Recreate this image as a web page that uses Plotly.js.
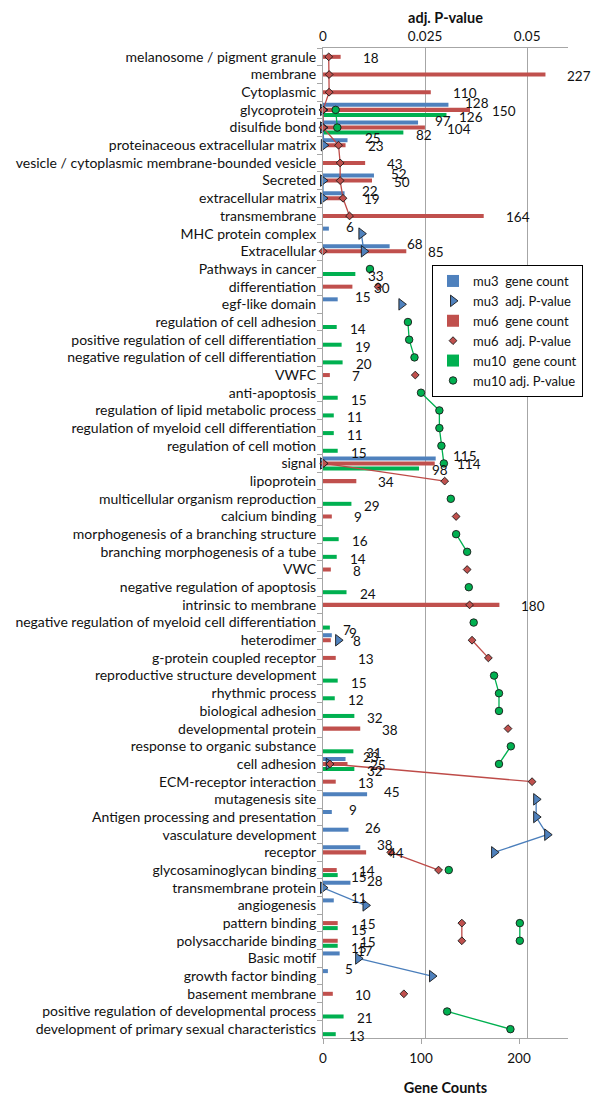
<!DOCTYPE html>
<html>
<head>
<meta charset="utf-8">
<script src="https://cdn.plot.ly/plotly-3.0.1.min.js"></script>
<style>html,body{margin:0;padding:0;background:#fff;}</style>
</head>
<body>
<div id="chart" style="width:600px;height:1105px;"></div>
<script>
const categories = [
"melanosome / pigment granule","membrane","Cytoplasmic","glycoprotein","disulfide bond",
"proteinaceous extracellular matrix","vesicle / cytoplasmic membrane-bounded vesicle","Secreted","extracellular matrix","transmembrane",
"MHC protein complex","Extracellular","Pathways in cancer","differentiation","egf-like domain",
"regulation of cell adhesion","positive regulation of cell differentiation","negative regulation of cell differentiation","VWFC","anti-apoptosis",
"regulation of lipid metabolic process","regulation of myeloid cell differentiation","regulation of cell motion","signal","lipoprotein",
"multicellular organism reproduction","calcium binding","morphogenesis of a branching structure","branching morphogenesis of a tube","VWC",
"negative regulation of apoptosis","intrinsic to membrane","negative regulation of myeloid cell differentiation","heterodimer","g-protein coupled receptor",
"reproductive structure development","rhythmic process","biological adhesion","developmental protein","response to organic substance",
"cell adhesion","ECM-receptor interaction","mutagenesis site","Antigen processing and presentation","vasculature development",
"receptor","glycosaminoglycan binding","transmembrane protein","angiogenesis","pattern binding",
"polysaccharide binding","Basic motif","growth factor binding","basement membrane","positive regulation of developmental process",
"development of primary sexual characteristics"
];

const mu3Count = [null,null,null,128,97,25,null,52,22,null,
  6,68,null,null,15,null,null,null,null,null,
  null,null,null,115,null,null,null,null,null,null,
  null,null,null,9,null,null,null,null,null,null,
  23,null,45,9,26,38,null,28,11,null,
  null,17,5,null,null,null];
const mu3P = [null,null,null,0,0,0.0002,null,0,0,null,
  0.0094,0.0100,null,null,0.0192,null,null,null,null,null,
  null,null,null,0,null,null,null,null,null,null,
  null,null,null,0.0037,null,null,null,null,null,null,
  0.0014,null,0.0522,0.0522,0.0549,0.0419,null,0,0.0104,null,
  null,0.0086,0.0267,null,null,null];

const mu6Count = [18,227,110,150,104,23,43,50,19,164,
  null,85,null,30,null,null,null,null,7,null,
  null,null,null,114,34,null,9,null,null,8,
  null,180,null,8,13,null,null,null,38,null,
  25,13,null,null,null,44,14,null,null,15,
  15,null,null,10,null,null];
const mu6P = [0.0014,0.0015,0.0015,0,0,0.0038,0.0042,0.0042,0.0049,0.0065,
  null,0,null,0.0135,null,null,null,null,0.0226,null,
  null,null,null,0.0002,0.0298,null,0.0326,null,null,0.0353,
  null,0.0359,null,0.0365,0.0405,null,null,null,0.0453,null,
  0.0017,0.0512,null,null,null,0.0166,0.0283,null,null,0.0340,
  0.0340,null,null,0.0198,null,null];

const mu10Count = [null,null,null,126,82,null,null,null,null,null,
  null,null,33,null,null,14,19,20,null,15,
  11,11,15,98,null,29,null,16,14,null,
  24,null,7,null,null,15,12,32,null,31,
  32,null,null,null,null,null,15,null,null,15,
  15,null,null,null,21,13];
const mu10P = [null,null,null,0.0031,0.0035,null,null,null,null,null,
  null,null,0.0115,null,null,0.0208,0.0211,0.0224,null,0.0240,
  0.0285,0.0285,0.0290,0.0296,null,0.0313,null,0.0326,0.0353,null,
  0.0357,null,0.0369,null,null,0.0419,0.0431,0.0431,null,0.0460,
  0.0431,null,null,null,null,null,0.0308,null,null,0.0482,
  0.0482,null,null,null,0.0304,0.0459];

const countTicks = [0, 100, 200];
const pTicks = [0, 0.025, 0.05];
const pTickText = ["0", "0.025", "0.05"];

const FONT = "Lato, 'Open Sans', sans-serif";
const BLUE = "#4F81BD", RED = "#C0504D", GREEN = "#00B050";
const BLUE_L = "#4A7EBB", RED_L = "#BE4B48", GREEN_L = "#00B050";

function barTrace(name, vals, color) {
  return {
    type: "bar", orientation: "h", name: name,
    x: vals, y: categories, xaxis: "x", yaxis: "y",
    marker: {color: color, line: {width: 0}},
    hoverinfo: "skip"
  };
}
function lineTrace(vals, color) {
  return {
    type: "scatter", mode: "lines", showlegend: false,
    x: vals, y: categories, xaxis: "x2", yaxis: "y",
    line: {color: color, width: 1.3}, connectgaps: false, cliponaxis: false, hoverinfo: "skip"
  };
}
function markerTrace(name, vals, color, symbol, size) {
  return {
    type: "scatter", mode: "markers", name: name,
    x: vals, y: categories, xaxis: "x2", yaxis: "y",
    marker: {color: color, symbol: symbol, size: size, line: {color: "#1a1a1a", width: 0.9}},
    cliponaxis: false, hoverinfo: "skip"
  };
}

// value labels for the bars, placed from the data through the axes
function countLabels(vals, dx, dy) {
  const out = [];
  vals.forEach((v, i) => {
    if (v === null) return;
    out.push({
      x: v, y: categories[i], xref: "x", yref: "y",
      text: String(v), showarrow: false, xanchor: "left", yanchor: "middle",
      xshift: dx, yshift: dy,
      font: {family: FONT, size: 13.5, color: "#111"}
    });
  });
  return out;
}

const annotations = [].concat(
  countLabels(mu3Count, 15, 7),
  countLabels(mu6Count, 20, -1),
  countLabels(mu10Count, 11, -7)
);

const data = [
  lineTrace(mu3P, BLUE_L),
  lineTrace(mu6P, RED_L),
  lineTrace(mu10P, GREEN_L),
  barTrace("mu3  gene count", mu3Count, BLUE),
  markerTrace("mu3  adj. P-value", mu3P, BLUE, "triangle-right", 10),
  barTrace("mu6  gene count", mu6Count, RED),
  markerTrace("mu6  adj. P-value", mu6P, RED, "diamond", 6),
  barTrace("mu10  gene count", mu10Count, GREEN),
  markerTrace("mu10 adj. P-value", mu10P, GREEN, "circle", 7.5)
];

const layout = {
  width: 600, height: 1105,
  margin: {l: 323, r: 32, t: 48, b: 67, pad: 0},
  paper_bgcolor: "#fff", plot_bgcolor: "#fff",
  font: {family: FONT, size: 14, color: "#111"},
  barmode: "group", bargap: 0.15, bargroupgap: 0.2,
  showlegend: true,
  annotations: annotations,
  legend: {
    x: 0.445, y: 0.7808, xanchor: "left", yanchor: "top",
    bgcolor: "#fff", bordercolor: "#000", borderwidth: 1,
    font: {family: FONT, size: 13, color: "#111"},
    traceorder: "normal", itemwidth: 30, tracegroupgap: 0
  },
  xaxis: {
    range: [0, 250], side: "bottom", anchor: "y",
    tickmode: "array", tickvals: countTicks,
    ticks: "outside", ticklen: 5, tickcolor: "#a6a6a6",
    showline: true, linecolor: "#a6a6a6", linewidth: 1,
    showgrid: false, zeroline: false,
    ticklabelstandoff: 3,
    tickfont: {family: FONT, size: 13.5, color: "#111"},
    title: {text: "<b>Gene Counts</b>", font: {family: FONT, size: 14.5, color: "#111"}, standoff: 17}
  },
  xaxis2: {
    range: [0, 0.06], side: "top", overlaying: "x", anchor: "y",
    tickmode: "array", tickvals: pTicks, ticktext: pTickText,
    ticks: "", showline: true, linecolor: "#a6a6a6", linewidth: 1,
    showgrid: true, gridcolor: "#a6a6a6", gridwidth: 1, zeroline: false,
    ticklabelstandoff: 1,
    tickfont: {family: FONT, size: 13.5, color: "#111"},
    title: {text: "<b>adj. P-value</b>", font: {family: FONT, size: 14.5, color: "#111"}, standoff: 0}
  },
  yaxis: {
    type: "category", range: [55.5, -0.5], autorange: false,
    tickmode: "linear", tick0: 0, dtick: 1,
    showline: true, linecolor: "#a6a6a6", linewidth: 1,
    ticks: "outside", tickson: "boundaries", ticklen: 5, tickcolor: "#a6a6a6",
    showgrid: false, zeroline: false, automargin: false,
    ticklabelstandoff: 3,
    tickfont: {family: FONT, size: 14, color: "#111"}
  }
};

Plotly.newPlot("chart", data, layout, {displayModeBar: false, staticPlot: true});
</script>
</body>
</html>
